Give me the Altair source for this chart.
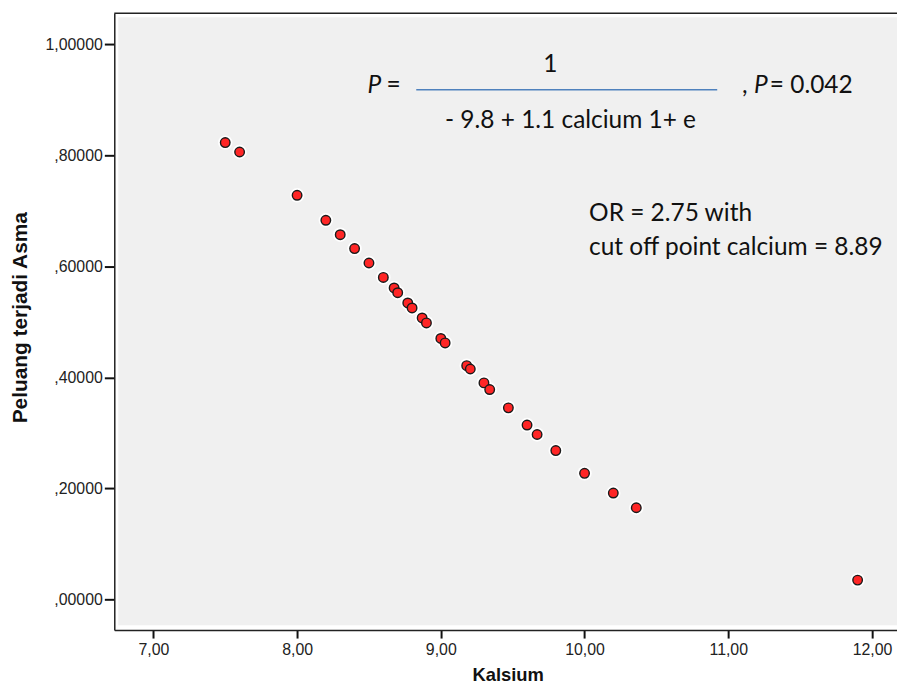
import altair as alt
import pandas as pd

# ---- data ----
kalsium = [7.50, 7.60, 8.00, 8.20, 8.30, 8.40, 8.50, 8.60, 8.675, 8.70,
           8.77, 8.80, 8.87, 8.90, 9.00, 9.03, 9.18, 9.205, 9.30, 9.34,
           9.47, 9.60, 9.67, 9.80, 10.00, 10.20, 10.36, 11.90]
peluang = [0.823, 0.806, 0.728, 0.683, 0.657, 0.632, 0.606, 0.580, 0.561, 0.5525,
           0.534, 0.525, 0.507, 0.498, 0.470, 0.462, 0.421, 0.415, 0.390, 0.378,
           0.345, 0.314, 0.297, 0.268, 0.227, 0.1915, 0.165, 0.0346]
x_ticks = [7, 8, 9, 10, 11, 12]
y_ticks = [0.0, 0.2, 0.4, 0.6, 0.8, 1.0]

df = pd.DataFrame({"Kalsium": kalsium, "Peluang": peluang})

W, H = 788, 621
XDOM = [6.728, 12.174]
YDOM = [-0.0555, 1.056]

TXT_FONT = "Lato"
TXT_SIZE = 24.6
AX_FONT = "Liberation Sans"

one = alt.Data(values=[{}])

xenc = alt.X("Kalsium:Q", scale=alt.Scale(domain=XDOM, nice=False, zero=False),
             axis=alt.Axis(values=x_ticks, title="Kalsium",
                           labelExpr="replace(format(datum.value, '.2f'), '.', ',')",
                           tickSize=8, labelPadding=4, titleFontSize=18.5,
                           titleX=396, titleY=45, titleBaseline="middle",
                           titleAlign="center"))
yenc = alt.Y("Peluang:Q", scale=alt.Scale(domain=YDOM, nice=False, zero=False),
             axis=alt.Axis(values=y_ticks, title="Peluang terjadi Asma",
                           labelExpr="replace(replace(format(datum.value, '.5f'), '.', ','), '0,', ',')",
                           tickSize=10, labelPadding=2, titleFontSize=21,
                           titleX=-94, titleY=306, titleBaseline="middle",
                           titleAlign="center", titleAngle=270))

bg = alt.Chart(one).mark_rect(fill="#f0f0f0").encode(
    x=alt.value(4), x2=alt.value(W), y=alt.value(4), y2=alt.value(H - 5))
top_rule = alt.Chart(one).mark_rule(color="#222222", strokeWidth=1.5).encode(
    x=alt.value(0), x2=alt.value(W), y=alt.value(0))

halo = alt.Chart(df).mark_circle(size=210, color="white", opacity=0.95).encode(
    x=xenc, y=yenc)
pts = alt.Chart(df).mark_point(shape="circle", filled=True, size=92, fill="#ff2626",
                               stroke="#1a1a1a", strokeWidth=1.4, opacity=1).encode(
    x="Kalsium:Q", y="Peluang:Q")


def txt(text, x, y, align="left", italic=False):
    return alt.Chart(one).mark_text(
        text=text, align=align, baseline="middle", font=TXT_FONT,
        fontSize=TXT_SIZE, fontStyle="italic" if italic else "normal",
        color="#111111").encode(x=alt.value(x), y=alt.value(y))


frac_line = alt.Chart(one).mark_rule(color="#4f81bd", strokeWidth=1.5).encode(
    x=alt.value(304), x2=alt.value(607), y=alt.value(77))

texts = [
    txt("P", 255, 73, italic=True),
    txt("=", 274, 73),
    txt("1", 439, 52, align="center"),
    txt("- 9.8 + 1.1 calcium 1+ e", 333, 109),
    txt(",", 632, 73),
    txt("P", 644, 73, italic=True),
    txt("= 0.042", 660, 73),
    txt("OR = 2.75 with", 478, 202),
    txt("cut off point calcium = 8.89", 478, 236),
]

chart = alt.layer(bg, top_rule, halo, pts, frac_line, *texts).properties(
    width=W, height=H,
    autosize=alt.AutoSizeParams(type="none"),
    padding={"left": 107, "top": 3, "right": 0, "bottom": 60},
    background="white",
).configure_view(strokeWidth=0, fill="white").configure_axis(
    grid=False, domainColor="#222222", domainWidth=1.5,
    tickColor="#111111", tickWidth=2,
    labelFont=AX_FONT, labelFontSize=16, labelColor="#222222",
    titleFont=AX_FONT, titleFontWeight="bold", titleColor="#111111",
)

chart.save("out.html", embed_options={"renderer": "svg", "actions": False})
